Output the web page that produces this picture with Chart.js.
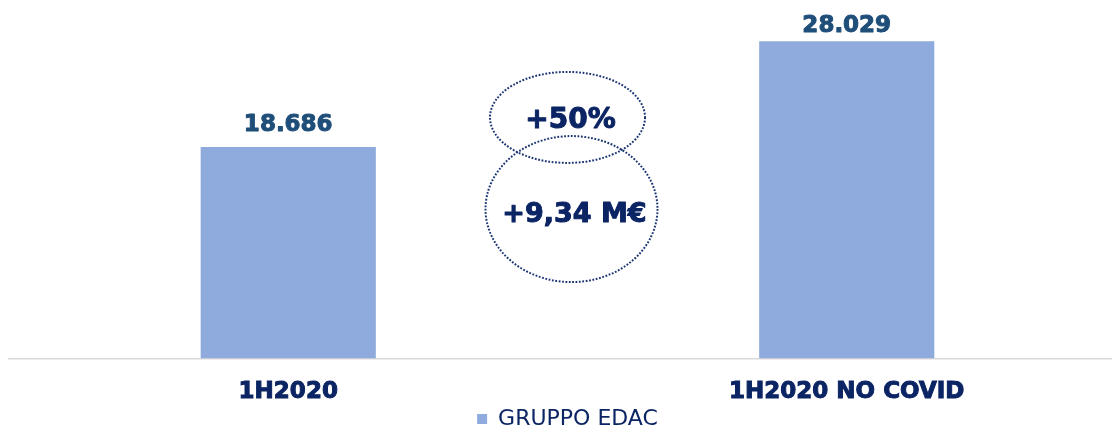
<!DOCTYPE html>
<html>
<head>
<meta charset="utf-8">
<script src="https://cdn.jsdelivr.net/npm/chart.js@4.4.0/dist/chart.umd.min.js"></script>
<style>
  html, body { margin: 0; padding: 0; background: #fff; overflow: hidden; }
  #wrap { width: 1126px; height: 440px; }
</style>
</head>
<body>
<div id="wrap"><canvas id="myChart"></canvas></div>
<script>
const categories = ['1H2020', '1H2020 NO COVID'];
const seriesName = 'GRUPPO EDAC';
const seriesValues = [18686, 28029];
const valueLabels = ['18.686', '28.029'];
const bubbleTexts = ['+50%', '+9,34 M€'];

const NAVY = '#0B2463';
const LABEL_BLUE = '#1F4E79';
const BAR_BLUE = '#8FAADC';
const FAMILY = 'Verdana, "DejaVu Sans"';

// heavier text: fill plus a thin stroke of the same colour
function heavyText(ctx, text, x, y, color) {
    ctx.fillStyle = color;
    ctx.strokeStyle = color;
    ctx.lineWidth = 1;
    ctx.lineJoin = 'round';
    ctx.strokeText(text, x, y);
    ctx.fillText(text, x, y);
}

// value labels above bars (Excel keeps them inside the plot area)
const barLabels = {
    id: 'barLabels',
    afterDatasetsDraw(chart) {
        const ctx = chart.ctx;
        const meta = chart.getDatasetMeta(0);
        ctx.save();
        ctx.font = 'bold 23px ' + FAMILY;
        ctx.textAlign = 'center';
        ctx.textBaseline = 'alphabetic';
        meta.data.forEach((bar, i) => {
            const y = Math.max(bar.y - 16, 32);
            heavyText(ctx, valueLabels[i], bar.x, y, LABEL_BLUE);
        });
        ctx.restore();
    }
};

// the two dotted ellipses between the bars
const bubbles = {
    id: 'bubbles',
    afterDraw(chart) {
        const ctx = chart.ctx;
        const xs = chart.scales.x;
        const ys = chart.scales.y;
        const midX = (xs.getPixelForValue(0) + xs.getPixelForValue(1)) / 2;
        const shapes = [
            {x: midX, y: ys.getPixelForValue(21300), rx: 77.5, ry: 45.5, size: 28, text: bubbleTexts[0], ty: 3},
            {x: midX + 4, y: ys.getPixelForValue(13200), rx: 86, ry: 73, size: 27, text: bubbleTexts[1], ty: 6}
        ];
        ctx.save();
        for (const s of shapes) {
            ctx.beginPath();
            ctx.setLineDash([1.8, 1.6]);
            ctx.lineWidth = 2;
            ctx.strokeStyle = '#1B3573';
            ctx.ellipse(s.x, s.y, s.rx, s.ry, 0, 0, Math.PI * 2);
            ctx.stroke();
        }
        ctx.setLineDash([]);
        ctx.textAlign = 'center';
        ctx.textBaseline = 'middle';
        for (const s of shapes) {
            ctx.font = 'bold ' + s.size + 'px ' + FAMILY;
            heavyText(ctx, s.text, s.x + 3, s.y + s.ty, NAVY);
        }
        ctx.restore();
    }
};

const ctx = document.getElementById('myChart');
const chart = new Chart(ctx, {
    type: 'bar',
    data: {
        labels: categories,
        datasets: [{
            label: seriesName,
            data: seriesValues,
            backgroundColor: BAR_BLUE,
            borderWidth: 0,
            barPercentage: 1,
            categoryPercentage: 0.3136
        }]
    },
    options: {
        responsive: true,
        maintainAspectRatio: false,
        animation: false,
        layout: {padding: {top: 19, left: 9, right: 0, bottom: 0}},
        plugins: {
            tooltip: {enabled: false},
            legend: {
                position: 'bottom',
                labels: {
                    boxWidth: 10,
                    boxHeight: 10,
                    padding: 4,
                    color: NAVY,
                    font: {family: FAMILY, size: 22}
                }
            }
        },
        scales: {
            x: {
                grid: {display: false, drawTicks: false},
                border: {display: true, color: '#D9D9D9', width: 1.5},
                ticks: {
                    color: NAVY,
                    padding: 20,
                    textStrokeColor: NAVY,
                    textStrokeWidth: 1,
                    font: {family: FAMILY, size: 23, weight: 'bold'}
                },
                afterFit(scale) {
                    scale.height -= 22;
                }
            },
            y: {
                display: false,
                min: 0,
                max: 30000
            }
        }
    },
    plugins: [barLabels, bubbles]
});
</script>
</body>
</html>
